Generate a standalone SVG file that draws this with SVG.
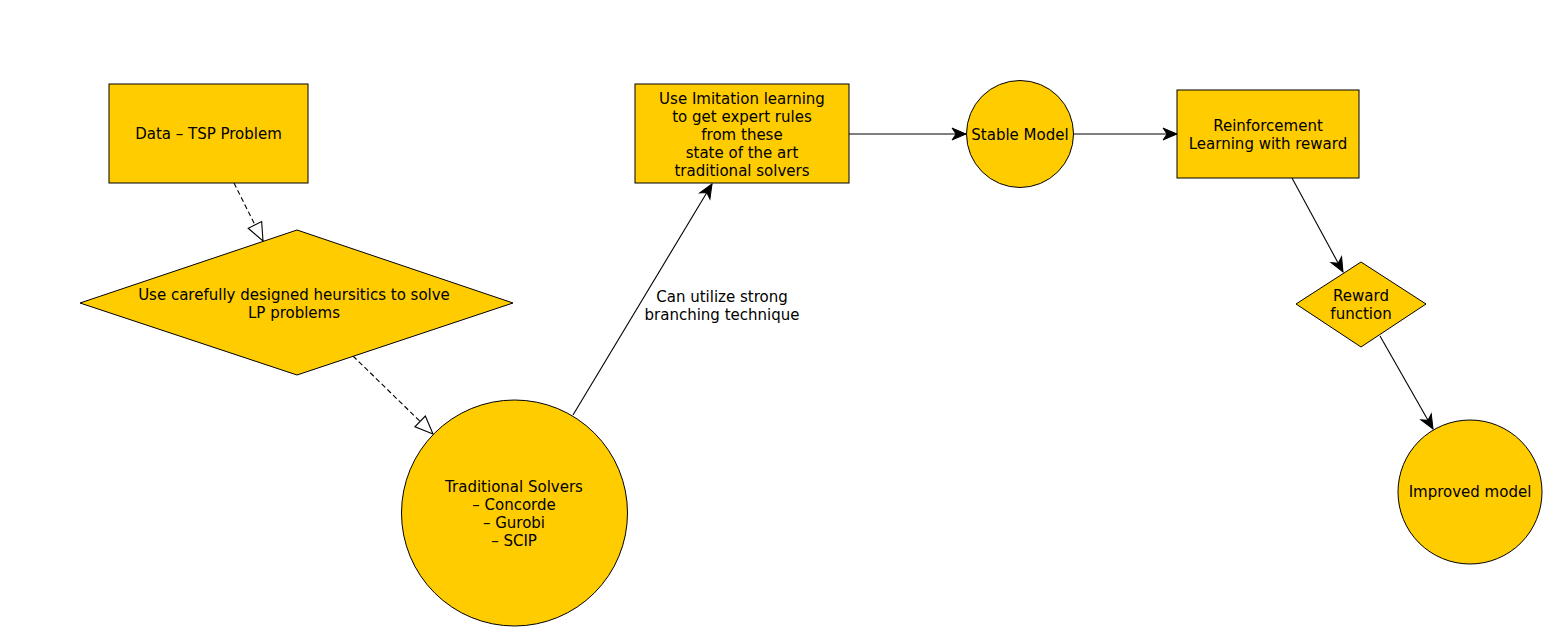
<svg xmlns="http://www.w3.org/2000/svg" width="1564" height="638" viewBox="0 0 1564 638">
<style>
.n{fill:#FFCC00;stroke:#000;stroke-width:1}
.t{font-family:"DejaVu Sans","Liberation Sans",sans-serif;font-size:15px;fill:#000;text-anchor:middle}
.e{fill:none;stroke:#000;stroke-width:1.1}
.d{stroke-dasharray:5 3}
</style>
<defs>
<marker id="open" markerUnits="userSpaceOnUse" orient="auto" refX="0" refY="0" markerWidth="20" markerHeight="20" overflow="visible">
<path d="M0,0 L-18,-7.5 L-18,7.5 Z" fill="#fff" stroke="#000" stroke-width="1.1"/>
</marker>
<marker id="arr" markerUnits="userSpaceOnUse" orient="auto" refX="0" refY="0" markerWidth="20" markerHeight="20" overflow="visible">
<path d="M0,0 L-14,-6 L-10,0 L-14,6 Z" fill="#000" stroke="#000" stroke-width="1"/>
</marker>
</defs>
<rect width="1564" height="638" fill="#fff"/>
<g id="connectors">
<line class="e d" x1="234" y1="183" x2="263" y2="241" marker-end="url(#open)"/>
<line class="e d" x1="353" y1="356" x2="433" y2="434" marker-end="url(#open)"/>
<line class="e" x1="573" y1="415" x2="712" y2="184" marker-end="url(#arr)"/>
<line class="e" x1="849" y1="134" x2="966" y2="134" marker-end="url(#arr)"/>
<line class="e" x1="1073" y1="134" x2="1177" y2="134" marker-end="url(#arr)"/>
<line class="e" x1="1292" y1="178" x2="1343" y2="272" marker-end="url(#arr)"/>
<line class="e" x1="1380" y1="336" x2="1433" y2="429" marker-end="url(#arr)"/>
<text class="t" x="722" y="302">Can utilize strong</text>
<text class="t" x="722" y="320">branching technique</text>
</g>
<g id="data">
<rect class="n" x="109" y="84" width="199" height="99"/>
<text class="t" x="208.5" y="139">Data – TSP Problem</text>
</g>
<g id="heuristics">
<polygon class="n" points="297,230 513,303 297,375 80,303"/>
<text class="t" x="294" y="300">Use carefully designed heursitics to solve</text>
<text class="t" x="294" y="318">LP problems</text>
</g>
<g id="solvers">
<circle class="n" cx="514.5" cy="513" r="113"/>
<text class="t" x="514" y="492">Traditional Solvers</text>
<text class="t" x="514" y="510">– Concorde</text>
<text class="t" x="514" y="528">– Gurobi</text>
<text class="t" x="514" y="546">– SCIP</text>
</g>
<g id="imitation">
<rect class="n" x="635" y="84" width="214" height="99"/>
<text class="t" x="742" y="103.5">Use Imitation learning</text>
<text class="t" x="742" y="121.5">to get expert rules</text>
<text class="t" x="742" y="139.5">from these</text>
<text class="t" x="742" y="157.5">state of the art</text>
<text class="t" x="742" y="175.5">traditional solvers</text>
</g>
<g id="stable">
<circle class="n" cx="1020" cy="134" r="53.5"/>
<text class="t" x="1020" y="139.5">Stable Model</text>
</g>
<g id="rl">
<rect class="n" x="1177" y="90" width="182" height="88"/>
<text class="t" x="1268" y="131">Reinforcement</text>
<text class="t" x="1268" y="149">Learning with reward</text>
</g>
<g id="reward">
<polygon class="n" points="1361,262 1426,304 1361,347 1296,304"/>
<text class="t" x="1361" y="301">Reward</text>
<text class="t" x="1361" y="319">function</text>
</g>
<g id="improved">
<circle class="n" cx="1470" cy="492" r="72"/>
<text class="t" x="1470" y="497">Improved model</text>
</g>
</svg>
